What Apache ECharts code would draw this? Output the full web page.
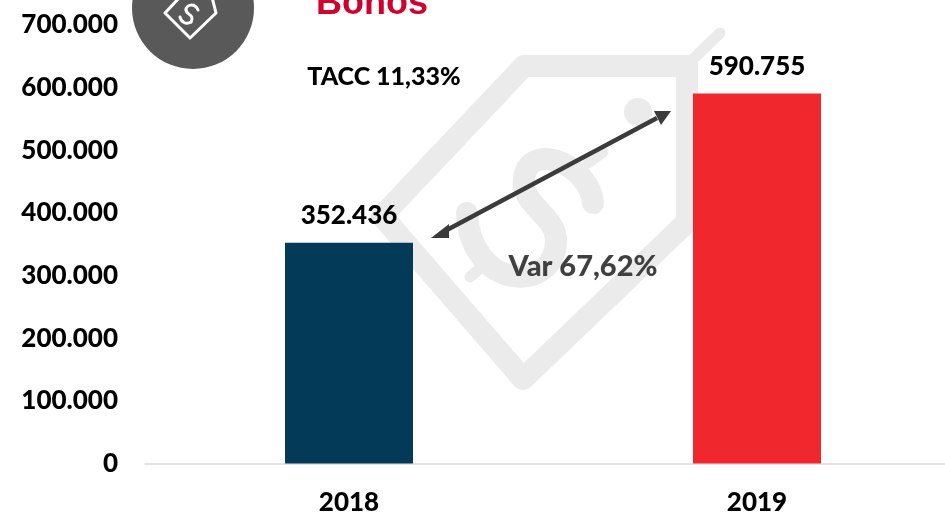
<!DOCTYPE html>
<html><head><meta charset="utf-8">
<style>html,body{margin:0;padding:0;background:#fff}#c{width:945px;height:512px}</style>
<script src="https://cdn.jsdelivr.net/npm/echarts@6/dist/echarts.min.js"></script>
</head><body><div id="c"></div>
<script>
const categories = ['2018', '2019'];
const values = [352436, 590755];
const barColors = ['#023a58', '#f0272d'];
const yMax = 700000;
const yStep = 100000;
const FONT = 'Lato';
const W = 900;
const fmt = v => String(v).replace(/\B(?=(\d{3})+$)/g, '.');

const WM = '#ebebeb';
const wmLine = (pts, w) => ({type:'polyline', z:-1, shape:{points:pts}, style:{stroke:WM, lineWidth:w||22, fill:null, lineJoin:'round', lineCap:'round'}, silent:true});
const wmCurve = (s) => ({type:'bezierCurve', z:-1, shape:s, style:{stroke:WM, lineWidth:22, fill:null, lineCap:'round'}, silent:true});
const white = (pts, w) => ({type:'polyline', z:5, shape:{points:pts}, style:{stroke:'#fff', lineWidth:w||3, fill:null, lineJoin:'round', lineCap:'round'}, silent:true});
const whiteC = (s) => ({type:'bezierCurve', z:5, shape:s, style:{stroke:'#fff', lineWidth:3, fill:null, lineCap:'round'}, silent:true});
const txt = (t, cx, cy, size, color, family, weight) => ({type:'text', z:10, x:cx, y:cy, style:{text:t, font:`${weight||W} ${size}px ${family||FONT}`, fill:color, align:'center', verticalAlign:'middle'}, silent:true});

const graphics = [
  wmLine([[524,66],[687,66],[687,222],[523,379],[382,216],[524,66]]),
  wmLine([[690,62],[720,33]], 11),
  {type:'circle', z:-1, shape:{cx:638,cy:112,r:14}, style:{fill:WM}, silent:true},
  wmCurve({x1:593,y1:203,cpx1:590,cpy1:165,cpx2:530,cpy2:140,x2:524,y2:178}),
  wmCurve({x1:524,y1:178,cpx1:520,cpy1:205,cpx2:556,cpy2:215,x2:556,y2:240}),
  wmCurve({x1:556,y1:240,cpx1:556,cpy1:295,cpx2:470,cpy2:290,x2:467,y2:213}),
  wmLine([[603,152],[588,163]], 11),
  wmLine([[470,277],[485,264]], 11),
  {type:'circle', z:4, shape:{cx:193,cy:8,r:61}, style:{fill:'#595959'}, silent:true},
  white([[165,13],[190,38],[216,13],[212,-3],[180,-3],[165,13]]),
  whiteC({x1:198,y1:10,cpx1:195,cpy1:3,cpx2:186,cpy2:4,x2:186,y2:10}),
  whiteC({x1:186,y1:10,cpx1:186,cpy1:15,cpx2:195,cpy2:14,x2:191,y2:22}),
  whiteC({x1:191,y1:22,cpx1:186,cpy1:25,cpx2:181,cpy2:22,x2:180,y2:17}),
  txt('Bonos', 372, 4, 36, '#d0002f', '"Liberation Sans"', 'bold'),
  txt('TACC 11,33%', 384, 77, 25, '#000'),
  txt('Var 67,62%', 583, 267, 29, '#404040'),
  {type:'line', z:6, shape:{x1:445,y1:231,x2:657,y2:118}, style:{stroke:'#3b3b3b', lineWidth:4.5}, silent:true},
  {type:'polygon', z:6, shape:{points:[[431,238],[449,224],[449,238]]}, style:{fill:'#3b3b3b'}, silent:true},
  {type:'polygon', z:6, shape:{points:[[671,111],[654,111],[661,125]]}, style:{fill:'#3b3b3b'}, silent:true}
];

const chart = echarts.init(document.getElementById('c'), null, {renderer:'canvas'});
chart.setOption({
  animation:false,
  backgroundColor:'#fff',
  grid:{left:145, width:816, top:25, bottom:48.5, containLabel:false, outerBoundsMode:'none'},
  xAxis:{type:'category', data:categories,
    axisLine:{lineStyle:{color:'#d9d9d9', width:1.5}}, axisTick:{show:false},
    axisLabel:{margin:26, color:'#000', fontFamily:FONT, fontWeight:W, fontSize:26}},
  yAxis:{type:'value', min:0, max:yMax, interval:yStep,
    axisLine:{show:false}, axisTick:{show:false}, splitLine:{show:false},
    axisLabel:{margin:27, color:'#000', fontFamily:FONT, fontWeight:W, fontSize:26, formatter:v=>fmt(v)}},
  series:[{type:'bar', barWidth:128, z:3,
    data:values.map((v,i)=>({value:v, itemStyle:{color:barColors[i]}})),
    label:{show:true, position:'top', distance:14, color:'#000', fontFamily:FONT, fontWeight:W, fontSize:26, formatter:p=>fmt(p.value)}}],
  graphic:{elements:graphics}
});
</script></body></html>
